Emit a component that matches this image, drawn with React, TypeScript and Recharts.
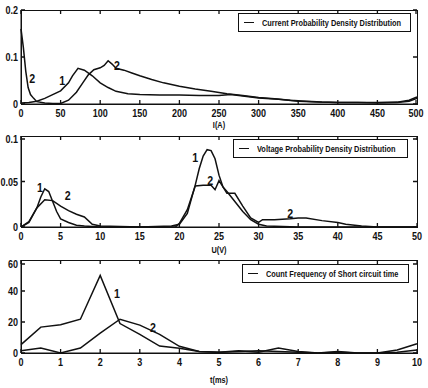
import { LineChart, Line, XAxis, YAxis, Legend, ReferenceDot } from 'recharts';

const FONT = "'Liberation Sans', Arial, sans-serif";
const INK = '#111';
const NARROW = 0.82; // squeeze glyphs to look like Arial Narrow
const CHART_W = 428;
const AXIS_W = 21;
const RIGHT_GAP = 11;
const PLOT_W = CHART_W - AXIS_W - RIGHT_GAP;

// Current probability density, I(A)
const currentX1 = [0, 10, 20, 30, 40, 50, 60, 65, 72, 80, 90, 100, 110, 120, 135, 150, 175, 200, 225, 250, 265, 280, 300, 325, 350, 375, 400, 425, 450, 475, 490, 500];
const currentY1 = [0.002, 0.003, 0.006, 0.012, 0.02, 0.028, 0.045, 0.06, 0.076, 0.072, 0.06, 0.045, 0.035, 0.027, 0.022, 0.02, 0.019, 0.019, 0.018, 0.018, 0.02, 0.017, 0.013, 0.01, 0.006, 0.004, 0.003, 0.003, 0.003, 0.004, 0.008, 0.015];
const currentX2 = [0, 3, 6, 9, 12, 16, 20, 30, 40, 50, 60, 70, 78, 85, 92, 100, 105, 110, 115, 120, 130, 140, 150, 165, 180, 200, 220, 240, 260, 280, 300, 320, 340, 360, 380, 400, 425, 450, 475, 490, 500];
const currentY2 = [0.16, 0.12, 0.07, 0.035, 0.02, 0.012, 0.005, 0.002, 0.001, 0.001, 0.008, 0.025, 0.045, 0.062, 0.073, 0.077, 0.082, 0.092, 0.085, 0.076, 0.072, 0.066, 0.06, 0.052, 0.045, 0.038, 0.032, 0.027, 0.022, 0.018, 0.014, 0.011, 0.008, 0.006, 0.004, 0.003, 0.003, 0.002, 0.003, 0.006, 0.012];
const currentXTicks = [0, 50, 100, 150, 200, 250, 300, 350, 400, 450, 500];
const currentYTicks = [0, 0.1, 0.2];

// Voltage probability density, U(V)
const voltageX1 = [0, 1, 2, 2.5, 3, 3.5, 4, 4.5, 5, 6, 7, 8, 10, 15, 19, 20, 21, 22, 22.5, 23, 23.5, 24, 24.5, 25, 25.5, 26, 27, 28, 29, 30, 31, 35, 40, 45, 50];
const voltageY1 = [0, 0.005, 0.021, 0.033, 0.042, 0.039, 0.028, 0.017, 0.009, 0.005, 0.002, 0.001, 0, 0, 0.001, 0.003, 0.015, 0.046, 0.064, 0.078, 0.085, 0.084, 0.075, 0.057, 0.044, 0.039, 0.028, 0.017, 0.008, 0.003, 0.001, 0, 0, 0, 0];
const voltageX2 = [0, 1, 2, 3, 4, 5, 6, 7, 8, 9, 10, 15, 19.5, 20, 21, 22, 23, 24, 24.5, 25, 25.5, 26, 27, 28, 29, 30, 30.5, 32, 34, 35, 36, 38, 40, 41, 43, 45, 50];
const voltageY2 = [0, 0.006, 0.021, 0.03, 0.029, 0.023, 0.018, 0.014, 0.011, 0.003, 0.001, 0, 0, 0.004, 0.019, 0.045, 0.046, 0.046, 0.041, 0.051, 0.044, 0.037, 0.037, 0.023, 0.01, 0.005, 0.008, 0.008, 0.009, 0.01, 0.01, 0.007, 0.005, 0.003, 0.001, 0, 0];
const voltageXTicks = [0, 5, 10, 15, 20, 25, 30, 35, 40, 45, 50];
const voltageYTicks = [0, 0.05, 0.1];

// Short circuit time count, t(ms)
const timeX = [0, 0.5, 1, 1.5, 2, 2.5, 3, 3.5, 4, 4.5, 5, 5.5, 6, 6.5, 7, 7.5, 8, 8.5, 9, 9.5, 10];
const timeY1 = [5.4, 16.7, 18.2, 21.8, 50, 19, 12, 4.5, 3, 1, 0.5, 1.5, 0.5, 3.2, 1, 0, 1, 0, 0, 2, 6];
const timeY2 = [1.5, 3.2, 0, 3.2, 12.8, 21.8, 18, 12, 4.3, 1, 0.5, 1, 1.5, 1, 0.5, 0, 0.5, 0, 0, 0.5, 2];
const timeXTicks = [0, 1, 2, 3, 4, 5, 6, 7, 8, 9, 10];
const timeYTicks = [0, 20, 40, 60];

type Pt = { x: number; y: number };
const toPoints = (xs: number[], ys: number[]): Pt[] => xs.map((x, i) => ({ x, y: ys[i] }));

function SlimText({ x, y, anchor, size, children }: { x: number; y: number; anchor: 'start' | 'middle' | 'end'; size: number; children: any }) {
  return (
    <text
      transform={`translate(${x},${y}) scale(${NARROW},1)`}
      textAnchor={anchor}
      fontSize={size}
      fontWeight="bold"
      fontFamily={FONT}
      fill={INK}
    >
      {children}
    </text>
  );
}

// inward tick marks on bottom and top edges, label below
function BottomTick({ x, y, payload, plotH }: any) {
  return (
    <g>
      <path d={`M${x},${y}V${y - 4}M${x},${y - plotH}V${y - plotH + 4}`} stroke="#111111" strokeWidth={1.3} fill="none" />
      <SlimText x={x} y={y + 13} anchor="middle" size={11}>{payload.value}</SlimText>
    </g>
  );
}

function LeftTick({ x, y, payload }: any) {
  return (
    <g>
      <path d={`M${x},${y}H${x + 4}M${x + PLOT_W},${y}H${x + PLOT_W - 4}`} stroke="#111111" strokeWidth={1.3} fill="none" />
      <SlimText x={x - 3} y={y + 4} anchor="end" size={11}>{payload.value}</SlimText>
    </g>
  );
}

function LegendBox({ text }: { text: string }) {
  return (
    <div
      style={{
        border: `1.5px solid ${INK}`,
        background: '#fff',
        height: 19,
        boxSizing: 'border-box',
        display: 'flex',
        alignItems: 'center',
        padding: '0 5px',
        overflow: 'hidden',
        whiteSpace: 'nowrap',
      }}
    >
      <span style={{ flexShrink: 0, display: 'inline-block', width: 10, height: 0, borderTop: `1px solid ${INK}`, marginRight: 8 }} />
      <span
        style={{
          flexShrink: 0,
          display: 'inline-block',
          fontFamily: FONT,
          fontSize: 9,
          fontWeight: 'bold',
          color: INK,
          transform: `scaleX(${NARROW})`,
          transformOrigin: 'left center',
        }}
      >
        {text}
      </span>
    </div>
  );
}

function Tag({ x, y, text }: { x: number; y: number; text: string }) {
  return (
    <ReferenceDot
      x={x}
      y={y}
      r={0}
      shape={(p: any) => (
        <SlimText x={p.cx} y={p.cy + 5} anchor="middle" size={13}>{text}</SlimText>
      )}
    />
  );
}

function AxisTitle({ viewBox, text, offset }: any) {
  const { x, y, width, height } = viewBox;
  return <SlimText x={x + width / 2} y={y + height - offset} anchor="middle" size={9}>{text}</SlimText>;
}

type PanelProps = {
  height: number;
  marginTop: number;
  axisHeight: number;
  xDomain: [number, number];
  yDomain: [number, number];
  xTicks: number[];
  yTicks: number[];
  xLabel: string;
  labelOffset: number;
  legend: string;
  legendPos: { top: number; left: number; width: number };
  series: Pt[][];
  tags: { x: number; y: number; text: string }[];
};

function Panel(p: PanelProps) {
  const [first, ...rest] = p.series;
  const plotH = p.height - p.marginTop - p.axisHeight;
  return (
    <div style={{ position: 'relative', width: CHART_W, height: p.height }}>
      <LineChart
        width={CHART_W}
        height={p.height}
        data={first}
        margin={{ top: p.marginTop, right: RIGHT_GAP, bottom: 0, left: 0 }}
      >
        <XAxis
          dataKey="x"
          type="number"
          domain={p.xDomain}
          ticks={p.xTicks}
          height={p.axisHeight}
          tickSize={0}
          tickMargin={0}
          tick={<BottomTick plotH={plotH} />}
          stroke={INK}
          label={{ content: (lp: any) => <AxisTitle viewBox={lp.viewBox} text={p.xLabel} offset={p.labelOffset} /> }}
        />
        <YAxis
          type="number"
          domain={p.yDomain}
          ticks={p.yTicks}
          width={AXIS_W}
          tickSize={0}
          tickMargin={0}
          tick={<LeftTick />}
          stroke={INK}
        />
        <Legend
          layout="horizontal"
          verticalAlign="middle"
          align="center"
          wrapperStyle={{ top: p.legendPos.top, left: p.legendPos.left, width: p.legendPos.width, right: 'auto', bottom: 'auto' }}
          content={() => <LegendBox text={p.legend} />}
        />
        <Line dataKey="y" type="linear" stroke={INK} strokeWidth={1.5} dot={false} isAnimationActive={false} />
        {rest.map((s, i) => (
          <Line
            key={i}
            data={s}
            dataKey="y"
            type="linear"
            stroke={INK}
            strokeWidth={1.5}
            dot={false}
            isAnimationActive={false}
          />
        ))}
        {p.tags.map((t, i) => (
          <Tag key={i} x={t.x} y={t.y} text={t.text} />
        ))}
      </LineChart>
      {/* MATLAB-style box round the plot area */}
      <div
        style={{
          position: 'absolute',
          left: AXIS_W - 0.5,
          top: p.marginTop - 0.5,
          width: PLOT_W + 1,
          height: plotH + 1,
          border: `1.3px solid ${INK}`,
          boxSizing: 'border-box',
          pointerEvents: 'none',
        }}
      />
    </div>
  );
}

export default function App() {
  return (
    <div style={{ position: 'absolute', left: 0, top: 0, width: CHART_W, background: '#fff' }}>
      <Panel
        height={130}
        marginTop={10}
        axisHeight={26}
        xDomain={[0, 500]}
        yDomain={[0, 0.2]}
        xTicks={currentXTicks}
        yTicks={currentYTicks}
        xLabel="I(A)"
        labelOffset={2}
        legend="Current Probability Density Distribution"
        legendPos={{ top: 13, left: 238, width: 173 }}
        series={[toPoints(currentX1, currentY1), toPoints(currentX2, currentY2)]}
        tags={[
          { x: 14, y: 0.055, text: '2' },
          { x: 52, y: 0.051, text: '1' },
          { x: 121, y: 0.083, text: '2' },
        ]}
      />
      <Panel
        height={125}
        marginTop={6}
        axisHeight={28}
        xDomain={[0, 50]}
        yDomain={[0, 0.1]}
        xTicks={voltageXTicks}
        yTicks={voltageYTicks}
        xLabel="U(V)"
        labelOffset={2}
        legend="Voltage Probability Density Distribution"
        legendPos={{ top: 9, left: 233, width: 175 }}
        series={[toPoints(voltageX1, voltageY1), toPoints(voltageX2, voltageY2)]}
        tags={[
          { x: 2.4, y: 0.044, text: '1' },
          { x: 5.9, y: 0.035, text: '2' },
          { x: 22, y: 0.077, text: '1' },
          { x: 23.9, y: 0.052, text: '2' },
          { x: 34, y: 0.015, text: '2' },
        ]}
      />
      <Panel
        height={133}
        marginTop={5}
        axisHeight={35}
        xDomain={[0, 10]}
        yDomain={[0, 60]}
        xTicks={timeXTicks}
        yTicks={timeYTicks}
        xLabel="t(ms)"
        labelOffset={5}
        legend="Count Frequency of Short circuit time"
        legendPos={{ top: 9, left: 242, width: 167 }}
        series={[toPoints(timeX, timeY1), toPoints(timeX, timeY2)]}
        tags={[
          { x: 2.42, y: 39, text: '1' },
          { x: 3.33, y: 16.8, text: '2' },
        ]}
      />
    </div>
  );
}
